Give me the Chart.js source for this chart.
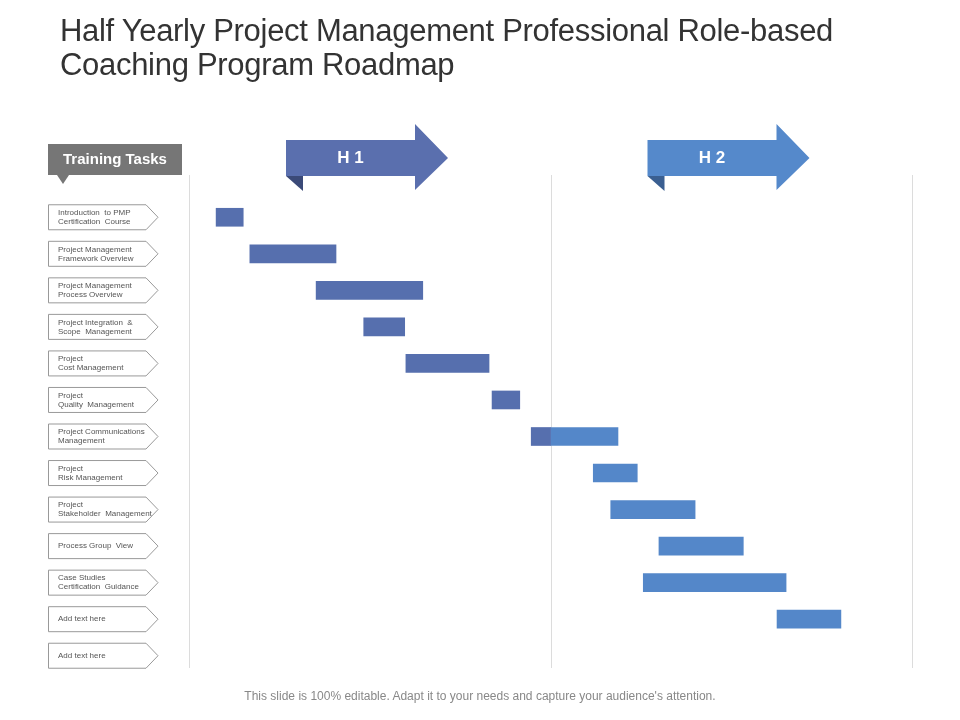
<!DOCTYPE html>
<html><head><meta charset="utf-8">
<script src="https://cdn.jsdelivr.net/npm/chart.js@4/dist/chart.umd.min.js"></script>
<style>
body{margin:0;background:#fff;font-family:"Liberation Sans",Arial,sans-serif}
#wrap{position:relative;width:960px;height:720px}
#title{position:absolute;left:60px;top:14px;font-size:31px;line-height:34px;color:#333;letter-spacing:-0.3px}
#foot{position:absolute;left:0;width:960px;top:689px;text-align:center;font-size:12px;color:#888}
canvas{position:absolute;left:0;top:0}
</style></head><body>
<div id="wrap"><canvas id="c" width="960" height="720"></canvas>
<div id="title">Half Yearly Project Management Professional Role-based<br>Coaching Program Roadmap</div>
<div id="foot">This slide is 100% editable. Adapt it to your needs and capture your audience's attention.</div></div>
<script>
const tasks = [
 ["Introduction  to PMP","Certification  Course"],
 ["Project Management","Framework Overview"],
 ["Project Management","Process Overview"],
 ["Project Integration  &","Scope  Management"],
 ["Project","Cost Management"],
 ["Project","Quality  Management"],
 ["Project Communications","Management"],
 ["Project","Risk Management"],
 ["Project","Stakeholder  Management"],
 ["Process Group  View"],
 ["Case Studies","Certification  Guidance"],
 ["Add text here"],
 ["Add text here"]
];
const starts = [0.45,1.01,2.11,2.90,3.60,5.03,5.68,6.71,7.00,7.80,7.54,9.76,null];
const ends   = [0.90,2.44,3.88,3.58,4.98,5.49,7.12,7.44,8.40,9.20,9.91,10.82,null];
const halves = ["H 1","H 2"];
const split = 6;
const cats = tasks.map((t,i)=>"T"+i);
const h1 = starts.map((s,i)=> s===null||s>=split ? null : [s, Math.min(ends[i],split)]);
const h2 = starts.map((s,i)=> s===null||ends[i]<=split ? null : [Math.max(s,split), ends[i]]);

const deco = {
 id:'deco',
 beforeDatasetsDraw(ch){
  const c=ch.ctx, x=ch.scales.x;
  c.save();
  c.strokeStyle='#dcdcdc'; c.lineWidth=1;
  [0,6,12].forEach(v=>{const px=Math.round(x.getPixelForValue(v))+0.5;c.beginPath();c.moveTo(px,175);c.lineTo(px,668);c.stroke();});
  c.restore();
 },
 afterDraw(ch){
  const c=ch.ctx, x=ch.scales.x, y=ch.scales.y;
  c.save();
  c.fillStyle='#767676'; c.fillRect(48,144,134,31);
  c.beginPath();c.moveTo(57,175);c.lineTo(69,175);c.lineTo(63,184);c.closePath();c.fill();
  c.fillStyle='#fff'; c.font='bold 15px "Liberation Sans",Arial'; c.textAlign='center'; c.textBaseline='middle';
  c.fillText('Training Tasks',115,160);
  tasks.forEach((t,i)=>{
   const cy=y.getPixelForValue(i);
   c.strokeStyle='#999'; c.lineWidth=1; c.fillStyle='#fff';
   c.beginPath();c.moveTo(48.5,cy-12.5);c.lineTo(146,cy-12.5);c.lineTo(158,cy);c.lineTo(146,cy+12.5);c.lineTo(48.5,cy+12.5);c.closePath();c.fill();c.stroke();
   c.fillStyle='#555'; c.font='8px "Liberation Sans",Arial'; c.textAlign='left';
   if(t.length===1) c.fillText(t[0],58,cy);
   else {c.fillText(t[0],58,cy-4.5);c.fillText(t[1],58,cy+4.5);}
  });
  const cols=[['#5a6fae','#3b4a78'],['#5589cb','#3a5f91']];
  halves.forEach((h,k)=>{
   const l=x.getPixelForValue(k*6)+97, r=l+129, tip=r+33;
   c.fillStyle=cols[k][1];
   c.beginPath();c.moveTo(l,176);c.lineTo(l+17,176);c.lineTo(l+17,191);c.closePath();c.fill();
   c.fillStyle=cols[k][0];
   c.beginPath();c.moveTo(l,140);c.lineTo(r,140);c.lineTo(r,124);c.lineTo(tip,158);c.lineTo(r,190);c.lineTo(r,176);c.lineTo(l,176);c.closePath();c.fill();
   c.fillStyle='#fff';c.font='bold 17px "Liberation Sans",Arial';c.textAlign='center';
   c.fillText(h,(l+r)/2,158);
  });
  c.restore();
 }
};

new Chart(document.getElementById('c'),{
 type:'bar',
 data:{labels:cats,datasets:[
  {label:'H1',data:h1,backgroundColor:'#566fae',barThickness:18,grouped:false},
  {label:'H2',data:h2,backgroundColor:'#5487c9',barThickness:18,grouped:false}
 ]},
 options:{indexAxis:'y',responsive:false,animation:false,
  layout:{padding:{left:189,right:48,top:199,bottom:46}},
  plugins:{legend:{display:false},tooltip:{enabled:false}},
  scales:{x:{type:'linear',min:0,max:12,display:false},
          y:{display:false}}
 },
 plugins:[deco]
});
</script></body></html>
